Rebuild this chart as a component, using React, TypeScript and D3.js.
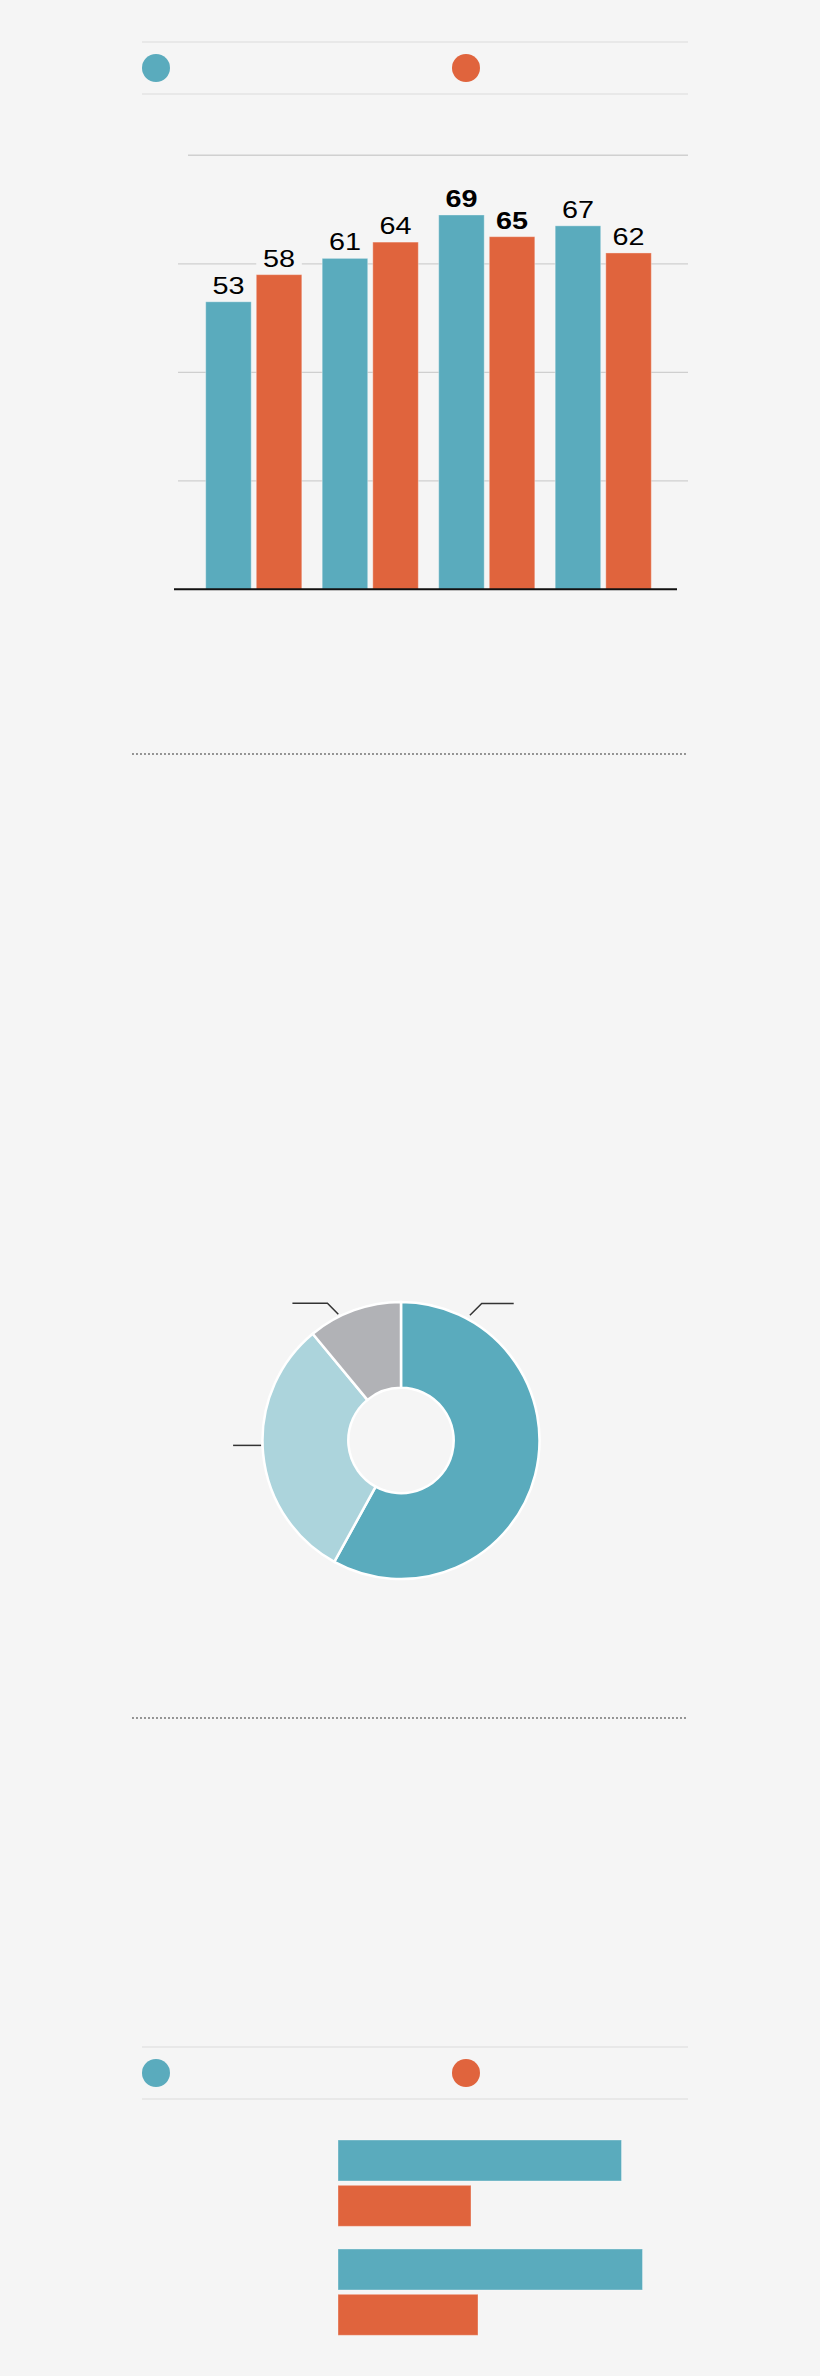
import React, { useEffect } from "react";
import * as d3 from "d3";

const W = 820;
const H = 2376;
const BG = "#f5f5f5";
const TEAL = "#5aabbd";
const ORANGE = "#e0643d";

// Legend series
const seriesKeys = ["teal", "orange"];
const seriesColors = [TEAL, ORANGE];

// Vertical grouped bar chart
const barGroups = ["g1", "g2", "g3", "g4"];
const tealValues = [53, 61, 69, 67];
const orangeValues = [58, 64, 65, 62];
const boldGroups = ["g3"];
const yTicks = [20, 40, 60];
const yMax = 80;

// Donut
const donutKeys = ["d1", "d2", "d3"];
const donutValues = [58, 31, 11];
const donutColors = [TEAL, "#acd4dc", "#b1b2b6"];

// Horizontal grouped bars
const hGroups = ["h1", "h2"];
const hTealValues = [81, 87];
const hOrangeValues = [38, 40];

function Legend({ cy }: { cy: number }) {
  const lx = d3.scaleOrdinal<string, number>().domain(seriesKeys).range([156, 466]);
  return (
    <g>
      <line x1={142} x2={688} y1={cy - 26} y2={cy - 26} stroke="#e3e3e3" strokeWidth={1.5} />
      <line x1={142} x2={688} y1={cy + 26} y2={cy + 26} stroke="#e3e3e3" strokeWidth={1.5} />
      {seriesKeys.map((k, i) => (
        <circle key={k} cx={lx(k)} cy={cy} r={14} fill={seriesColors[i]} />
      ))}
    </g>
  );
}

function BarChart() {
  const y = d3.scaleLinear().domain([0, yMax]).range([589.3, 155.3]);
  const x0 = d3
    .scaleBand<string>()
    .domain(barGroups)
    .range([195.5, 661.5])
    .paddingInner(0.175)
    .paddingOuter(0.0875);
  const x1 = d3
    .scaleBand<string>()
    .domain(seriesKeys)
    .range([0, x0.bandwidth()])
    .paddingInner(0.1);
  const data = barGroups.map((g, i) => ({ g, vals: [tealValues[i], orangeValues[i]] }));
  return (
    <g>
      {yTicks.map((t) => (
        <line key={t} x1={178} x2={688} y1={y(t)} y2={y(t)} stroke="#cfcfcf" strokeWidth={1.2} />
      ))}
      <line x1={188} x2={688} y1={y(yMax)} y2={y(yMax)} stroke="#d0d0d0" strokeWidth={1.5} />
      {data.map((d) => (
        <g key={d.g} transform={`translate(${x0(d.g)},0)`}>
          {seriesKeys.map((k, i) => {
            const v = d.vals[i];
            const bx = x1(k)!;
            const bw = x1.bandwidth();
            const top = y(v);
            const bold = boldGroups.includes(d.g);
            return (
              <g key={k}>
                <rect x={bx} y={top - 30} width={bw} height={30} fill={BG} />
                <rect
                  x={bx}
                  y={top}
                  width={bw}
                  height={y(0) - top}
                  fill={seriesColors[i]}
                  stroke="#fff"
                  strokeOpacity={0.35}
                  strokeWidth={1}
                />
                <text
                  transform={`translate(${bx + bw / 2},${top - 8}) scale(1.2,1)`}
                  textAnchor="middle"
                  fontFamily="'Liberation Sans', Arial, sans-serif"
                  fontSize={24}
                  fontWeight={bold ? 700 : 400}
                  fill="#000"
                >
                  {v}
                </text>
              </g>
            );
          })}
        </g>
      ))}
      <line x1={174} x2={677} y1={y(0)} y2={y(0)} stroke="#111" strokeWidth={2} />
    </g>
  );
}

function Donut() {
  const cx = 401;
  const cy = 1440.5;
  const pie = d3.pie<number>().sort(null).value((d) => d);
  const arcs = pie(donutValues);
  const arc = d3.arc<d3.PieArcDatum<number>>().innerRadius(52.7).outerRadius(138.5);
  const rad = (deg: number) => (deg * Math.PI) / 180;
  // leader lines: [startAngle, startR, elbowAngle, elbowR, horizontal run]
  const leaders: [number, number, number, number, number][] = [
    [28.8, 143, 30.5, 159, 32],
    [268, 140, 268, 140, -28],
    [333.6, 141, 331.8, 155.7, -35],
  ];
  return (
    <g transform={`translate(${cx},${cy})`}>
      {arcs.map((a, i) => (
        <path key={donutKeys[i]} d={arc(a) || ""} fill={donutColors[i]} stroke="#fff" strokeWidth={2.5} />
      ))}
      {leaders.map((l, i) => {
        const p1 = d3.pointRadial(rad(l[0]), l[1]);
        const p2 = d3.pointRadial(rad(l[2]), l[3]);
        const p3 = [p2[0] + l[4], p2[1]];
        return (
          <polyline
            key={i}
            points={`${p1[0]},${p1[1]} ${p2[0]},${p2[1]} ${p3[0]},${p3[1]}`}
            fill="none"
            stroke="#333"
            strokeWidth={1.5}
          />
        );
      })}
    </g>
  );
}

function HBars() {
  const x = d3.scaleLinear().domain([0, 100]).range([338, 688]);
  const y0 = d3.scaleBand<string>().domain(hGroups).range([2140, 2335.3]).paddingInner(0.208);
  const y1 = d3.scaleBand<string>().domain(seriesKeys).range([0, y0.bandwidth()]).paddingInner(0.095);
  return (
    <g>
      {hGroups.map((g, gi) => {
        const vals = [hTealValues[gi], hOrangeValues[gi]];
        return (
          <g key={g} transform={`translate(0,${y0(g)})`}>
            {seriesKeys.map((k, i) => (
              <rect
                key={k}
                x={x(0)}
                y={y1(k)}
                width={x(vals[i]) - x(0)}
                height={y1.bandwidth()}
                fill={seriesColors[i]}
                stroke="#fff"
                strokeOpacity={0.35}
                strokeWidth={1}
              />
            ))}
          </g>
        );
      })}
    </g>
  );
}

function Dotted({ y }: { y: number }) {
  return (
    <line
      x1={133}
      x2={688}
      y1={y}
      y2={y}
      stroke="#666"
      strokeWidth={1.8}
      strokeDasharray="0 4"
      strokeLinecap="round"
    />
  );
}

export default function App() {
  useEffect(() => {
    document.body.style.margin = "0";
    document.body.style.background = BG;
  }, []);
  return (
    <svg width={W} height={H} style={{ display: "block", background: BG }}>
      <rect x={0} y={0} width={W} height={H} fill={BG} />
      <Legend cy={68} />
      <BarChart />
      <Dotted y={754} />
      <Donut />
      <Dotted y={1718} />
      <Legend cy={2073} />
      <HBars />
    </svg>
  );
}
